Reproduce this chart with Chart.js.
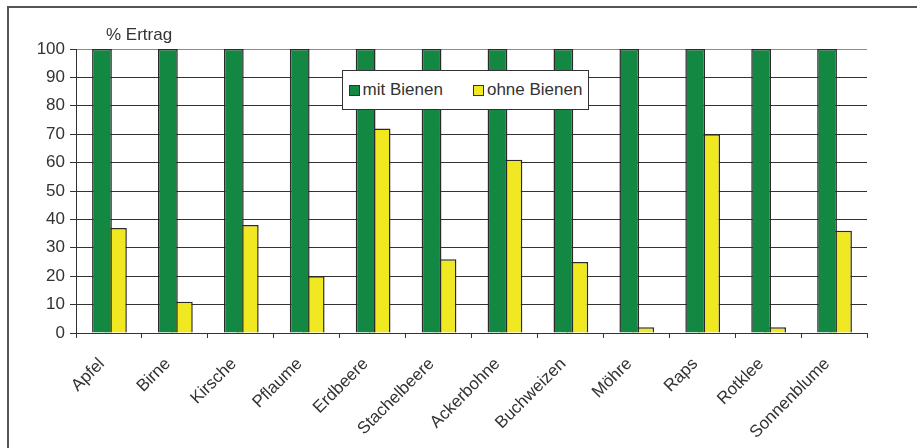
<!DOCTYPE html>
<html>
<head>
<meta charset="utf-8">
<script src="https://cdn.jsdelivr.net/npm/chart.js@4.4.1/dist/chart.umd.min.js"></script>
<style>
  body { margin: 0; background: #fff; }
  #wrap { position: relative; width: 917px; height: 448px; overflow: hidden; }
  #frame { position: absolute; left: 7px; top: 6px; width: 1000px; height: 500px;
           border-left: 2px solid #555; border-top: 2px solid #555; }
  #legend { position: absolute; left: 342px; top: 70px; width: 245px; height: 38px;
            border: 1px solid #333; background: #fff; display: flex; align-items: center;
            justify-content: center; gap: 30px; font: 17px "Liberation Sans", Arial, sans-serif; color: #333; }
  #legend span.box { display: inline-block; width: 9px; height: 9px; border: 1px solid #333;
                     margin-right: 3px; vertical-align: -1px; }
</style>
</head>
<body>
<div id="wrap">
  <div id="frame"></div>
  <canvas id="chart"></canvas>
  <div id="legend"></div>
</div>
<script>
const categories = ['Apfel', 'Birne', 'Kirsche', 'Pflaume', 'Erdbeere', 'Stachelbeere',
  'Ackerbohne', 'Buchweizen', 'Möhre', 'Raps', 'Rotklee', 'Sonnenblume'];
const mitBienen = [100, 100, 100, 100, 100, 100, 100, 100, 100, 100, 100, 100];
const ohneBienen = [37, 11, 38, 20, 72, 26, 61, 25, 2, 70, 2, 36];
const seriesNames = ['mit Bienen', 'ohne Bienen'];
const axisTitle = '% Ertrag';

const font = { family: '"Liberation Sans", Arial, sans-serif', size: 17 };
const textColor = '#333';

// shifts the two bars of a group so they overlap like the original
const overlapBars = {
  id: 'overlapBars',
  afterDatasetsUpdate(chart) {
    const step = chart.scales.x.width / categories.length;
    chart.data.datasets.forEach((ds, i) => {
      chart.getDatasetMeta(i).data.forEach(el => { el.x += ds.shift * step; });
    });
  }
};

const axisLabel = {
  id: 'axisLabel',
  afterDraw(chart) {
    const ctx = chart.ctx;
    ctx.save();
    ctx.font = font.size + 'px ' + font.family;
    ctx.fillStyle = textColor;
    ctx.textBaseline = 'middle';
    ctx.fillText(axisTitle, chart.chartArea.left + 30, chart.chartArea.top - 14);
    ctx.restore();
  }
};

const chart = new Chart(document.getElementById('chart'), {
  type: 'bar',
  data: {
    labels: categories,
    datasets: [
      {
        label: seriesNames[0],
        data: mitBienen,
        backgroundColor: '#138843',
        borderColor: '#2a2a2a',
        borderWidth: 1.5,
        barPercentage: 0.30,
        categoryPercentage: 1,
        grouped: false,
        shift: -0.106
      },
      {
        label: seriesNames[1],
        data: ohneBienen,
        backgroundColor: '#f0e821',
        borderColor: '#2a2a2a',
        borderWidth: 1.5,
        barPercentage: 0.33,
        categoryPercentage: 1,
        grouped: false,
        shift: 0.106
      }
    ]
  },
  options: {
    responsive: true,
    maintainAspectRatio: false,
    animation: false,
    layout: { padding: { top: 49, right: 50, left: 0, bottom: 0 } },
    plugins: {
      legend: { display: false },
      tooltip: { enabled: false }
    },
    scales: {
      x: {
        afterFit: (scale) => { scale.height = 115; },
        border: { color: '#333', width: 1 },
        grid: {
          offset: true,
          tickLength: 5,
          tickColor: '#333',
          color: (c) => c.index === categories.length ? '#b4b4bc' : 'rgba(0,0,0,0)'
        },
        ticks: {
          font: font,
          color: textColor,
          minRotation: 45,
          maxRotation: 45,
          autoSkip: false,
          padding: 16,
          labelOffset: -7
        }
      },
      y: {
        min: 0,
        max: 100,
        afterFit: (scale) => { scale.width = 76; },
        border: { color: '#333', width: 1 },
        grid: {
          tickLength: 6,
          tickColor: '#333',
          color: (c) => c.tick && c.tick.value === 100 ? '#8a8a90' : '#333'
        },
        ticks: {
          stepSize: 10,
          font: font,
          color: textColor,
          padding: 5
        }
      }
    }
  },
  plugins: [overlapBars, axisLabel]
});

// legend built from the datasets
const legend = document.getElementById('legend');
chart.data.datasets.forEach(ds => {
  const item = document.createElement('div');
  item.innerHTML = '<span class="box" style="background:' + ds.backgroundColor + '"></span>' + ds.label;
  legend.appendChild(item);
});
</script>
</body>
</html>
